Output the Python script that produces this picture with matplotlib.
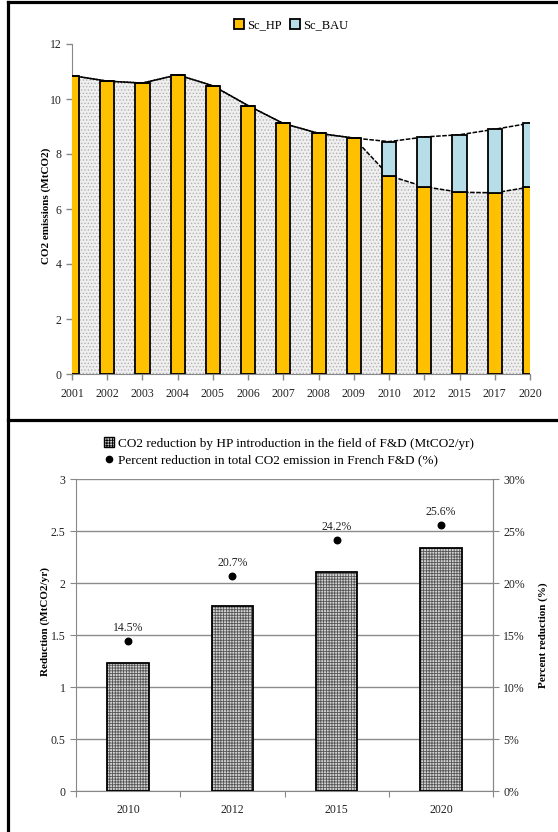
import numpy as np
import matplotlib
matplotlib.use('Agg')
import matplotlib.pyplot as plt
from matplotlib.patches import Patch
from matplotlib.lines import Line2D
from matplotlib.ticker import FuncFormatter, MultipleLocator

plt.rcParams['font.family'] = ['Liberation Serif', 'DejaVu Serif']
plt.rcParams['hatch.linewidth'] = 0.6

# Emissions par scenario (MtCO2)
years = ['2001', '2002', '2003', '2004', '2005', '2006', '2007', '2008', '2009',
         '2010', '2012', '2015', '2017', '2020']
sc_hp = [10.85, 10.65, 10.58, 10.88, 10.48, 9.76, 9.11, 8.75, 8.58,
         7.21, 6.81, 6.61, 6.59, 6.80]
sc_bau_total = [10.85, 10.65, 10.58, 10.88, 10.48, 9.76, 9.11, 8.75, 8.58,
                8.45, 8.62, 8.70, 8.90, 9.12]

# Reduction due a l'introduction des PAC
red_years = ['2010', '2012', '2015', '2020']
red_mt = [1.23, 1.78, 2.11, 2.34]
red_pct = [14.5, 20.7, 24.2, 25.6]

W, H = 558, 832
fig = plt.figure(figsize=(W / 100, H / 100), dpi=100)


def fx(px):
    return px / W


def fy(py):
    return 1 - py / H


# ---------------- graphe du haut ----------------
ax1 = fig.add_axes([fx(72), fy(374), fx(530) - fx(72), fy(44) - fy(374)])
x = np.arange(len(years))
hp = np.array(sc_hp)
bau = np.array(sc_bau_total)

ax1.fill_between(x, 0, hp, facecolor='#efefef', edgecolor='#b0b0b0',
                 hatch='.....', linewidth=0, zorder=1)
ax1.fill_between(x, hp, bau, facecolor='white', linewidth=0, zorder=1)
ax1.plot(x, bau, color='black', lw=1.1, ls=(0, (3, 1)), zorder=2)
ax1.plot(x, hp, color='black', lw=1.1, ls=(2, (3, 1)), zorder=2)

ax1.bar(x, hp, width=0.4, color='#FFC000', edgecolor='black', lw=1.3, zorder=3)
ax1.bar(x, bau - hp, bottom=hp, width=0.4, color='#B7DDE8',
        edgecolor='black', lw=1.3, zorder=3)

ax1.set_xlim(0, len(years) - 1)
ax1.set_ylim(0, 12)
ax1.set_yticks(range(0, 13, 2))
ax1.set_xticks(x)
ax1.set_xticklabels(years)
for s in ['top', 'right']:
    ax1.spines[s].set_visible(False)
ax1.spines['left'].set_color('#888888')
ax1.spines['bottom'].set_color('#888888')
ax1.spines['bottom'].set_linestyle((0, (2, 1)))
ax1.tick_params(axis='both', labelsize=8.5, colors='#888888', labelcolor='#222222',
                length=4, width=1, direction='out')
ax1.tick_params(axis='x', pad=6)

fig.legend(handles=[Patch(facecolor='#FFC000', edgecolor='black', lw=1.3, label='Sc_HP'),
                    Patch(facecolor='#B7DDE8', edgecolor='black', lw=1.3, label='Sc_BAU')],
           loc='center', bbox_to_anchor=(fx(291), fy(25)), ncol=2, frameon=False,
           fontsize=9, handlelength=0.8, handleheight=0.8, handletextpad=0.2,
           columnspacing=0.7)
fig.text(fx(46), fy(206), 'CO2 emissions (MtCO2)', rotation=90, ha='center',
         va='center', fontsize=8, fontweight='bold')

# ---------------- graphe du bas ----------------
ax2 = fig.add_axes([fx(76), fy(791.3), fx(493) - fx(76), fy(479.3) - fy(791.3)])
xb = np.arange(len(red_years)) + 0.5
ax2.bar(xb, red_mt, width=0.4, facecolor='#d4d4d4', edgecolor='#555555',
        hatch='++++++', lw=0, zorder=3)
ax2.bar(xb, red_mt, width=0.4, facecolor='none', edgecolor='black', lw=1.3, zorder=4)
ax2.set_xlim(0, len(red_years))
ax2.set_ylim(0, 3)
ax2.yaxis.set_major_locator(MultipleLocator(0.5))
ax2.yaxis.set_major_formatter(FuncFormatter(lambda v, p: f'{v:g}'))
ax2.grid(axis='y', color='#8c8c8c', lw=1, zorder=0)
ax2.set_xticks(range(len(red_years) + 1), minor=False)
ax2.set_xticklabels([])
ax2.set_xticks(xb, minor=True)
ax2.set_xticklabels(red_years, minor=True)
ax2.tick_params(axis='x', which='minor', length=0, pad=9, labelsize=8.5,
                labelcolor='#222222')
ax2.tick_params(axis='x', which='major', length=4, color='#888888')
ax2.tick_params(axis='y', labelsize=8.5, colors='#888888', labelcolor='#222222',
                length=4, direction='out')
ax2.spines['top'].set_visible(False)
for s in ['left', 'right', 'bottom']:
    ax2.spines[s].set_color('#888888')

ax3 = ax2.twinx()
ax3.set_ylim(0, 0.30)
ax3.yaxis.set_major_locator(MultipleLocator(0.05))
ax3.yaxis.set_major_formatter(FuncFormatter(lambda v, p: f'{v * 100:.0f}%'))
ax3.tick_params(axis='y', labelsize=8.5, colors='#888888', labelcolor='#222222',
                length=4, direction='out')
for s in ['top', 'left', 'bottom']:
    ax3.spines[s].set_visible(False)
ax3.spines['right'].set_color('#888888')
pct = np.array(red_pct) / 100
ax3.scatter(xb, pct, s=22, color='black', zorder=5)
for xi, p in zip(xb, red_pct):
    ax3.annotate(f'{p:.1f}%', (xi, p / 100), xytext=(0, 5), textcoords='offset points',
                 ha='center', va='bottom', fontsize=8.5, color='#222222')

fig.legend(handles=[Patch(facecolor='#d4d4d4', edgecolor='black', hatch='++++++', lw=1,
                          label='CO2 reduction by HP introduction in the field of F&D (MtCO2/yr)'),
                    Line2D([], [], marker='o', color='black', ls='none', markersize=4.5,
                           label='Percent reduction in total CO2 emission in French F&D (%)')],
           loc='center', bbox_to_anchor=(fx(289), fy(452)), ncol=1, frameon=False,
           fontsize=9.5, handlelength=0.8, handleheight=0.8, handletextpad=0.3,
           labelspacing=0.3, alignment='left')
fig.text(fx(45), fy(621), 'Reduction (MtCO2/yr)', rotation=90, ha='center',
         va='center', fontsize=8, fontweight='bold')
fig.text(fx(543), fy(635), 'Percent reduction (%)', rotation=90, ha='center',
         va='center', fontsize=8, fontweight='bold')

# cadres des deux panneaux
for (x0, y0, x1, y1) in [(8, 2, W, 2), (8, 2, 8, H), (8, 420, W, 420)]:
    fig.add_artist(Line2D([fx(x0), fx(x1)], [fy(y0), fy(y1)], color='black',
                          lw=2.3, transform=fig.transFigure))

fig.savefig('out.png', dpi=100)
